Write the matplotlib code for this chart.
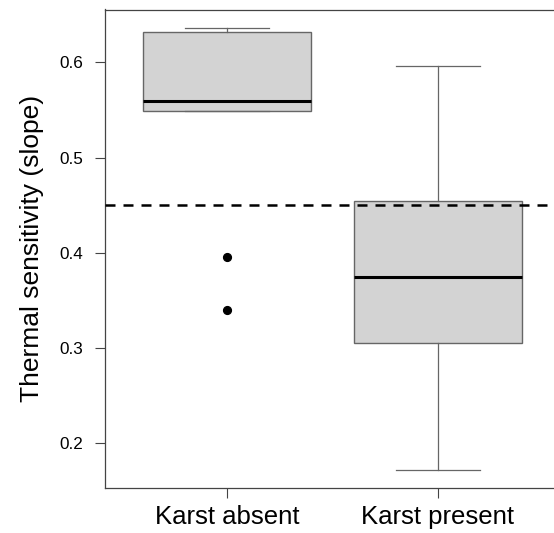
import matplotlib
matplotlib.use("Agg")
import matplotlib.pyplot as plt

plt.rcParams['font.family'] = ['Liberation Sans', 'DejaVu Sans']

# Box statistics
groups = ["Karst absent", "Karst present"]
q1 = [0.549, 0.3055]
med = [0.5594, 0.3747]
q3 = [0.632, 0.4545]
whis_lo = [0.549, 0.1716]
whis_hi = [0.6364, 0.5965]
outliers = [[0.395, 0.340], []]
reference_slope = 0.45

stats = []
for i, name in enumerate(groups):
    stats.append({"label": name, "q1": q1[i], "med": med[i], "q3": q3[i],
                  "whislo": whis_lo[i], "whishi": whis_hi[i], "fliers": outliers[i]})

fig = plt.figure(figsize=(5.54, 5.33), dpi=100)
ax = fig.add_axes([105 / 554, 1 - 488 / 533, (560 - 105) / 554, (488 - 9.5) / 533])

edge = "#666666"
ax.bxp(stats, positions=[1, 2], widths=0.8, capwidths=0.4, patch_artist=True,
       boxprops=dict(facecolor="#d3d3d3", edgecolor=edge, linewidth=1.0),
       whiskerprops=dict(color=edge, linewidth=0.9),
       capprops=dict(color=edge, linewidth=0.9),
       medianprops=dict(color="black", linewidth=2.2, solid_capstyle="butt"),
       flierprops=dict(marker="o", markerfacecolor="black", markeredgecolor="black",
                       markersize=5.6))

ax.axhline(reference_slope, color="black", linewidth=1.8, linestyle=(0, (4, 3.2)), zorder=5)

ax.set_xlim(0.42, 2.58)
ax.set_ylim(0.1528, 0.6555)
ax.set_yticks([0.2, 0.3, 0.4, 0.5, 0.6])
ax.set_yticklabels(["0.2", "0.3", "0.4", "0.5", "0.6"])
ax.set_xticks([1, 2])
ax.set_xticklabels(groups)

for s in ax.spines.values():
    s.set_color("#444444")
    s.set_linewidth(0.9)
ax.tick_params(axis="y", length=7, width=0.8, color="#444444", labelsize=12.3, pad=8.5)
ax.tick_params(axis="x", length=7, width=0.8, color="#444444", labelsize=18.5, pad=5)
ax.set_ylabel("Thermal sensitivity (slope)", fontsize=19, labelpad=11)

fig.savefig("out.png", dpi=100)
